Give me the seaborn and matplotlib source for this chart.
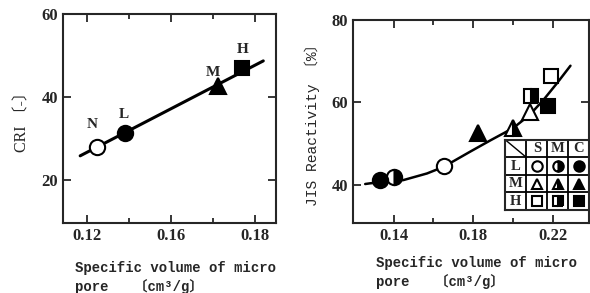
import numpy as np
import pandas as pd
import seaborn as sns
import matplotlib.pyplot as plt
from matplotlib.ticker import FixedLocator

sns.set_style('ticks')
plt.rcParams['font.family'] = ['Liberation Serif', 'Noto Sans CJK JP']

# left panel: CRI vs micro pore volume
cri_names = ['N', 'L', 'M', 'H']
cri_x = [0.1249, 0.1382, 0.1824, 0.1938]
cri_y = [27.95, 31.3, 42.65, 47.0]
cri_marker = ['o', 'o', '^', 's']
cri_fill = ['none', 'full', 'full', 'full']
cri_label_off = [(-4, 16), (-1, 13), (-4, 10), (0, 13)]
cri_line_x = [0.1168, 0.2038]
cri_line_y = [25.8, 48.7]
left_ticks = [0.12, 0.16, 0.20]
left_ticklabels = ['0.12', '0.16', '0.18']
left_minor = [0.14, 0.18]

# right panel: JIS reactivity, rows L/M/H, columns S/M/C
jis_row = ['L', 'L', 'L', 'M', 'M', 'M', 'H', 'H', 'H']
jis_col = ['S', 'M', 'C', 'S', 'M', 'C', 'S', 'M', 'C']
jis_x = [0.1655, 0.1404, 0.1333, 0.2083, 0.2000, 0.1822, 0.2191, 0.2090, 0.2174]
jis_y = [44.6, 42.0, 41.2, 57.6, 53.8, 52.7, 66.4, 61.6, 59.2]
curve_x = [0.1258, 0.1283, 0.1450, 0.1568, 0.1651, 0.1785, 0.1885,
           0.2000, 0.2083, 0.2153, 0.2220, 0.2287]
curve_y = [40.24, 40.41, 41.2, 42.8, 44.4, 48.1, 50.8, 53.8, 57.0, 60.7, 64.7, 68.9]
right_ticks = [0.14, 0.18, 0.22]
right_minor = [0.16, 0.20]

row_marker = {'L': 'o', 'M': '^', 'H': 's'}
col_fill = {'S': 'none', 'M': 'right', 'C': 'full'}
size_scale = {'o': 1.0, '^': 1.0, 's': 0.88}


def draw_marker(ax, x, y, m, fill, size):
    size = size * size_scale[m]
    if fill == 'none':
        ax.plot(x, y, m, ms=size, mfc='white', mec='black', mew=1.5, zorder=5)
    elif fill == 'full':
        ax.plot(x, y, m, ms=size, mfc='black', mec='black', mew=1.5, zorder=5)
    else:
        ax.plot(x, y, m, ms=size, fillstyle=fill, mfc='black', mfcalt='white',
                mec='black', mew=1.5, zorder=5)


def style_axes(ax):
    for s in ax.spines.values():
        s.set_linewidth(1.5)
        s.set_visible(True)
    ax.tick_params(which='both', direction='in', top=True, right=True, width=1.3)
    ax.tick_params(which='major', length=6, labelsize=12)
    ax.tick_params(which='minor', length=3.5)
    for t in ax.get_xticklabels() + ax.get_yticklabels():
        t.set_fontweight('bold')


fig = plt.figure(figsize=(5.9, 2.93), dpi=100)
ax1 = fig.add_axes([0.107, 0.239, 0.361, 0.713])
ax2 = fig.add_axes([0.598, 0.239, 0.401, 0.693])

# left
df_line = pd.DataFrame({'x': cri_line_x, 'y': cri_line_y})
sns.lineplot(data=df_line, x='x', y='y', ax=ax1, color='black', lw=2.2)
for name, x, y, m, f, off in zip(cri_names, cri_x, cri_y, cri_marker, cri_fill, cri_label_off):
    draw_marker(ax1, x, y, m, f, 11)
    ax1.annotate(name, (x, y), xytext=off, textcoords='offset points',
                 ha='center', va='center', fontsize=11, fontweight='bold')
ax1.set_xlim(0.1087, 0.2099)
ax1.set_ylim(9.6, 60)
ax1.xaxis.set_major_locator(FixedLocator(left_ticks))
ax1.set_xticklabels(left_ticklabels)
ax1.xaxis.set_minor_locator(FixedLocator(left_minor))
ax1.set_yticks([20, 40, 60])
ax1.set_xlabel('')
ax1.set_ylabel('CRI 〔-〕', fontsize=11.5, labelpad=8)
style_axes(ax1)

# right
df_curve = pd.DataFrame({'x': curve_x, 'y': curve_y})
sns.lineplot(data=df_curve, x='x', y='y', ax=ax2, color='black', lw=1.8)
for r, c, x, y in zip(jis_row, jis_col, jis_x, jis_y):
    draw_marker(ax2, x, y, row_marker[r], col_fill[c], 11)
ax2.set_xlim(0.1196, 0.2382)
ax2.set_ylim(30.8, 80)
ax2.xaxis.set_major_locator(FixedLocator(right_ticks))
ax2.set_xticklabels(['0.14', '0.18', '0.22'])
ax2.xaxis.set_minor_locator(FixedLocator(right_minor))
ax2.set_yticks([40, 60, 80])
ax2.set_xlabel('')
ax2.set_ylabel('JIS Reactivity 〔%〕', fontsize=10.5, labelpad=8,
               family=['Liberation Mono', 'Noto Sans CJK JP'])
style_axes(ax2)

# legend table
tab = ax2.inset_axes([0.645, 0.064, 0.355, 0.345])
tab.set_xlim(0, 4)
tab.set_ylim(0, 4)
tab.set_xticks([])
tab.set_yticks([])
tab.set_facecolor('white')
for s in tab.spines.values():
    s.set_linewidth(1.5)
for k in range(1, 4):
    tab.axhline(k, color='black', lw=1.3)
    tab.axvline(k, color='black', lw=1.3)
tab.plot([0, 1], [4, 3], color='black', lw=1.0)
cols = ['S', 'M', 'C']
rows = ['L', 'M', 'H']
for i, c in enumerate(cols):
    tab.text(i + 1.5, 3.5, c, ha='center', va='center', fontsize=10.5, fontweight='bold')
for j, r in enumerate(rows):
    tab.text(0.5, 2.5 - j, r, ha='center', va='center', fontsize=10.5, fontweight='bold')
    for i, c in enumerate(cols):
        draw_marker(tab, i + 1.5, 2.5 - j, row_marker[r], col_fill[c], 7.5)

xl = 'Specific volume of micro\npore   〔cm³/g〕'
fig.text(0.127, 0.052, xl, ha='left', va='center', fontsize=10, fontweight='bold',
         family=['Liberation Mono', 'Noto Sans CJK JP'], linespacing=1.3)
fig.text(0.637, 0.07, xl, ha='left', va='center', fontsize=10, fontweight='bold',
         family=['Liberation Mono', 'Noto Sans CJK JP'], linespacing=1.3)

fig.savefig('out.png', dpi=100)
